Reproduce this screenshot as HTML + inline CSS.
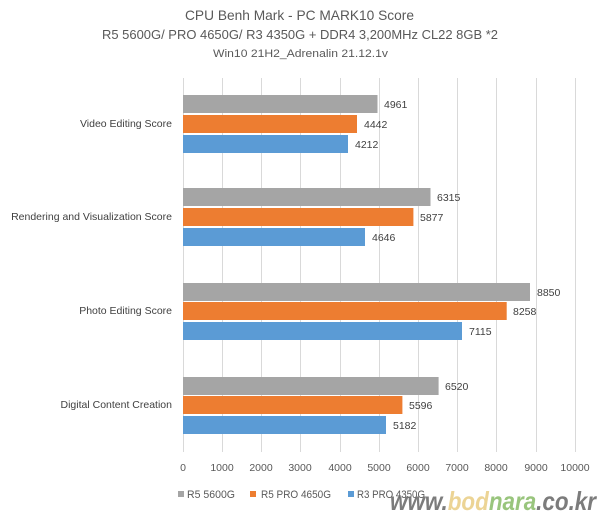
<!DOCTYPE html>
<html><head><style>
body{margin:0;background:#fff;}
svg text{font-family:"Liberation Sans",sans-serif;}
</style></head><body>
<svg width="600" height="512" xmlns="http://www.w3.org/2000/svg">
<rect width="600" height="512" fill="#fff"/>
<text x="185" y="20" font-size="14" fill="#595959" textLength="229" lengthAdjust="spacingAndGlyphs">CPU Benh Mark - PC MARK10 Score</text>
<text x="102" y="39" font-size="12.5" fill="#595959" textLength="396" lengthAdjust="spacingAndGlyphs">R5 5600G/ PRO 4650G/ R3 4350G + DDR4 3,200MHz CL22 8GB *2</text>
<text x="213" y="57" font-size="11" fill="#595959" textLength="175" lengthAdjust="spacingAndGlyphs">Win10 21H2_Adrenalin 21.12.1v</text>
<g stroke="#d9d9d9" stroke-width="1">
<line x1="183.5" y1="78" x2="183.5" y2="452"/><line x1="222.5" y1="78" x2="222.5" y2="452"/><line x1="261.5" y1="78" x2="261.5" y2="452"/><line x1="300.5" y1="78" x2="300.5" y2="452"/><line x1="340.5" y1="78" x2="340.5" y2="452"/><line x1="379.5" y1="78" x2="379.5" y2="452"/><line x1="418.5" y1="78" x2="418.5" y2="452"/><line x1="457.5" y1="78" x2="457.5" y2="452"/><line x1="496.5" y1="78" x2="496.5" y2="452"/><line x1="536.5" y1="78" x2="536.5" y2="452"/><line x1="575.5" y1="78" x2="575.5" y2="452"/>
</g>
<g font-size="10.5" fill="#404040">
<rect x="183" y="95" width="194.5" height="18" fill="#a5a5a5"/><text x="384" y="108">4961</text>
<rect x="183" y="115" width="174" height="18" fill="#ed7d31"/><text x="364" y="128">4442</text>
<rect x="183" y="135" width="165" height="18" fill="#5b9bd5"/><text x="355" y="148">4212</text>
<rect x="183" y="188" width="247.5" height="18" fill="#a5a5a5"/><text x="437" y="201">6315</text>
<rect x="183" y="208" width="230.4" height="18" fill="#ed7d31"/><text x="420" y="221">5877</text>
<rect x="183" y="228" width="182" height="18" fill="#5b9bd5"/><text x="372" y="241">4646</text>
<rect x="183" y="283" width="347" height="18" fill="#a5a5a5"/><text x="537" y="296">8850</text>
<rect x="183" y="302" width="323.7" height="18" fill="#ed7d31"/><text x="513" y="315">8258</text>
<rect x="183" y="322" width="279" height="18" fill="#5b9bd5"/><text x="469" y="335">7115</text>
<rect x="183" y="377" width="255.6" height="18" fill="#a5a5a5"/><text x="445" y="390">6520</text>
<rect x="183" y="396" width="219.4" height="18" fill="#ed7d31"/><text x="409" y="409">5596</text>
<rect x="183" y="416" width="203" height="18" fill="#5b9bd5"/><text x="393" y="429">5182</text>
</g>
<g font-size="10.5" fill="#404040" text-anchor="end">
<text x="172" y="127">Video Editing Score</text>
<text x="172" y="220">Rendering and Visualization Score</text>
<text x="172" y="314">Photo Editing Score</text>
<text x="172" y="408">Digital Content Creation</text>
</g>
<g font-size="10.5" fill="#595959" text-anchor="middle">
<text x="183" y="471">0</text><text x="222" y="471">1000</text><text x="261" y="471">2000</text><text x="300" y="471">3000</text><text x="340" y="471">4000</text><text x="379" y="471">5000</text><text x="418" y="471">6000</text><text x="457" y="471">7000</text><text x="496" y="471">8000</text><text x="536" y="471">9000</text><text x="575" y="471">10000</text>
</g>
<g font-size="11" fill="#595959">
<rect x="178" y="491" width="6" height="6" fill="#a5a5a5"/><text x="187" y="498" textLength="48" lengthAdjust="spacingAndGlyphs">R5 5600G</text>
<rect x="250" y="491" width="6" height="6" fill="#ed7d31"/><text x="261" y="498" textLength="70" lengthAdjust="spacingAndGlyphs">R5 PRO 4650G</text>
<rect x="348" y="491" width="6" height="6" fill="#5b9bd5"/><text x="357" y="498" textLength="68" lengthAdjust="spacingAndGlyphs">R3 PRO 4350G</text>
</g>
<text x="390" y="510" font-size="26" font-weight="bold" font-style="italic" fill="#6e6e6e" opacity="0.9" textLength="206" lengthAdjust="spacingAndGlyphs">www.<tspan fill="#ead08a">bod</tspan><tspan fill="#8fbf70">nara</tspan>.co.kr</text>
</svg>
</body></html>
